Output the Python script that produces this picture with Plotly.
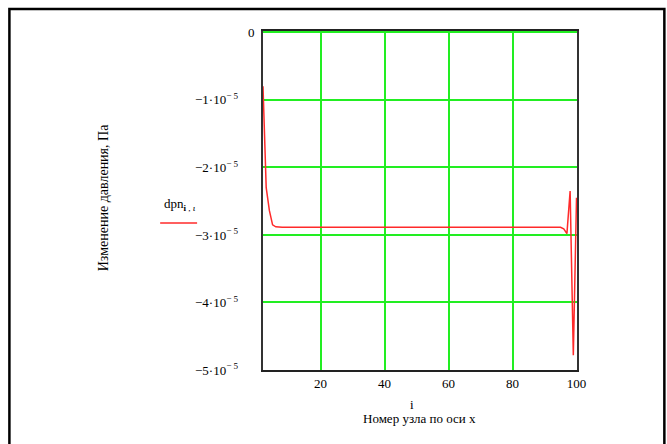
import plotly.graph_objects as go

# Node numbers along x and the pressure change at each node (Pa)
node_i = list(range(2, 101))
flat = -2.886e-5
dpn_head = [-0.80e-5, -2.30e-5, -2.64e-5, -2.85e-5, -2.88e-5]           # i = 2..6
dpn_mid = [flat] * (95 - 7 + 1)                                          # i = 7..95
dpn_tail = [-2.91e-5, -2.98e-5, -2.35e-5, -4.78e-5, -2.45e-5]           # i = 96..100
dpn = dpn_head + dpn_mid + dpn_tail

y_tick_vals = [0, -1e-5, -2e-5, -3e-5, -4e-5, -5e-5]
y_tick_text = ["0"] + [f"\u2212{k}\u00b710<sup>\u2212 5</sup>" + "&nbsp;" * 5 for k in range(1, 6)]
x_tick_vals = [20, 40, 60, 80, 100]
x_tick_text = ["20", "40", "60", "80", "100"]

FONT = "Liberation Serif, Times New Roman, serif"
GRID = "#22ee22"

fig = go.Figure()
fig.add_trace(go.Scatter(
    x=node_i, y=dpn, mode="lines",
    line=dict(color="#ff2a2a", width=1.5),
    showlegend=False, hoverinfo="skip",
))

# plot area geometry in pixels (for placing paper-referenced decorations)
L, R, T, B = 263, 577.5, 31, 370
W, H = R - L, B - T


def px(x):
    return (x - L) / W


def py(y):
    return (B - y) / H


fig.update_layout(
    width=667, height=444,
    margin=dict(l=L, r=667 - R, t=T, b=444 - B),
    paper_bgcolor="white", plot_bgcolor="white",
    font=dict(family=FONT, size=13, color="black"),
    xaxis=dict(
        range=[2, 100.15], tickvals=x_tick_vals, ticktext=x_tick_text,
        showgrid=True, gridcolor=GRID, gridwidth=2, zeroline=False,
        showline=True, linecolor="#222", linewidth=2, mirror=True,
        ticks="", ticklabelstandoff=0,
        tickfont=dict(family=FONT, size=13, color="black"),
    ),
    yaxis=dict(
        range=[-5e-5, 0.02e-5], tickvals=y_tick_vals, ticktext=y_tick_text,
        showgrid=True, gridcolor=GRID, gridwidth=2, zeroline=False,
        showline=True, linecolor="#333", linewidth=2, mirror=True,
        ticks="", ticklabelstandoff=4,
        tickfont=dict(family=FONT, size=13, color="black"),
    ),
    shapes=[
        # outer frame
        dict(type="rect", xref="paper", yref="paper",
             x0=px(9), x1=px(665), y0=py(470), y1=py(9),
             line=dict(color="black", width=2.5), fillcolor="rgba(0,0,0,0)",
             layer="above"),
        # legend sample line
        dict(type="line", xref="paper", yref="paper",
             x0=px(160), x1=px(197), y0=py(223), y1=py(223),
             line=dict(color="#ff2a2a", width=1.5)),
    ],
    annotations=[
        dict(text="Изменение давления, Па", textangle=-90,
             xref="paper", yref="paper", x=px(104), y=py(198),
             xanchor="center", yanchor="middle", showarrow=False,
             font=dict(family=FONT, size=14, color="black")),
        dict(text="dpn<sub><b>i</b> , <i>ι</i></sub>",
             xref="paper", yref="paper", x=px(162), y=py(204),
             xanchor="left", yanchor="middle", showarrow=False,
             font=dict(family=FONT, size=13, color="black")),
        dict(text="i", xref="paper", yref="paper", x=px(412), y=py(404),
             xanchor="center", yanchor="middle", showarrow=False,
             font=dict(family=FONT, size=13, color="black")),
        dict(text="Номер узла по оси x", xref="paper", yref="paper",
             x=px(420), y=py(418), xanchor="center", yanchor="middle",
             showarrow=False, font=dict(family=FONT, size=13, color="black")),
    ],
)

fig.write_html("out.html")
